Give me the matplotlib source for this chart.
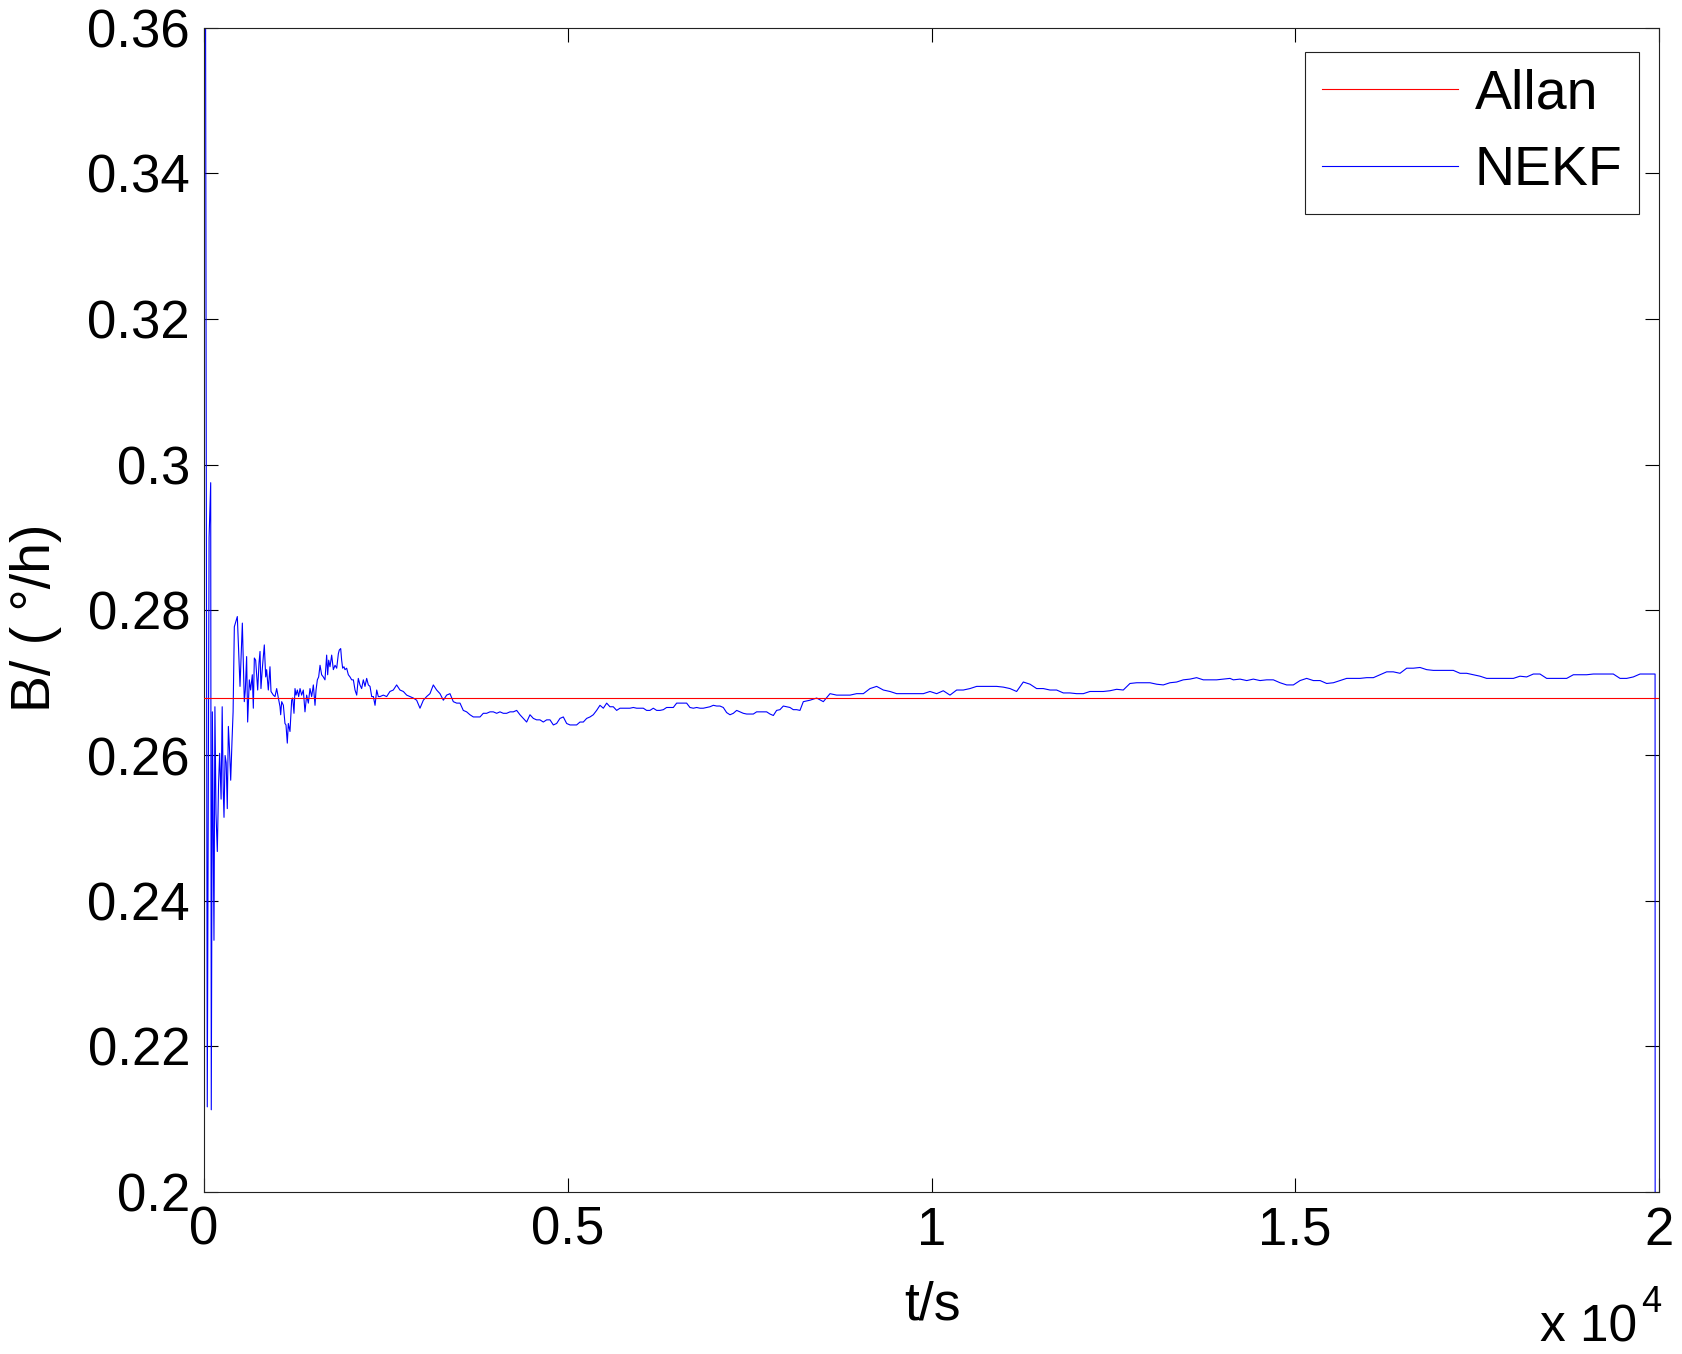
import matplotlib
matplotlib.use("Agg")
import matplotlib.pyplot as plt

# ---- data ----
allan_bias = 0.2679

# NEKF estimate, time in s
early_t = [0, 8, 45, 70, 92, 100, 115, 137, 150, 165, 183, 200, 215, 235, 250,
           265, 275, 290, 305, 320, 335, 350, 367, 385, 400]
early_b = [0.0, 0.45, 0.2117, 0.290, 0.2975, 0.2113, 0.2660, 0.2346, 0.2667, 0.2520,
           0.2468, 0.2560, 0.2603, 0.2540, 0.2667, 0.2550, 0.2515, 0.2600, 0.2590,
           0.2527, 0.2640, 0.2610, 0.2566, 0.2620, 0.2660]

settle_t = [417, 458, 495, 527, 554, 568, 586, 600, 623, 641, 664, 678, 692, 710,
            738, 756, 770, 783, 802, 829, 848, 861, 884, 907, 921, 953, 976, 999,
            1022, 1045, 1054, 1068, 1091, 1113, 1127, 1145, 1159, 1182, 1205, 1219,
            1237, 1251, 1265, 1283, 1301, 1320, 1342, 1365, 1388, 1411, 1434, 1457,
            1480, 1503, 1526, 1540, 1558, 1576, 1595, 1617, 1640, 1663, 1686, 1700,
            1714, 1732, 1755, 1778, 1801, 1824, 1847, 1860, 1879, 1892, 1906, 1924,
            1938, 1961, 1984, 2007, 2030, 2053, 2076, 2099, 2121, 2144, 2167, 2190,
            2213, 2236, 2259, 2282, 2305, 2328, 2351, 2374, 2396]
settle_b = [0.2777, 0.2791, 0.2695, 0.2782, 0.2674, 0.2690, 0.2736, 0.2646, 0.2704,
            0.2690, 0.2711, 0.2665, 0.2734, 0.2731, 0.2690, 0.2727, 0.2743, 0.2692,
            0.2720, 0.2752, 0.2708, 0.2718, 0.2690, 0.2722, 0.2688, 0.2683, 0.2681,
            0.2692, 0.2679, 0.2667, 0.2656, 0.2674, 0.2669, 0.2644, 0.2642, 0.2617,
            0.2644, 0.2633, 0.2676, 0.2679, 0.2658, 0.2692, 0.2683, 0.2690, 0.2681,
            0.2692, 0.2683, 0.2690, 0.2660, 0.2683, 0.2672, 0.2692, 0.2681, 0.2697,
            0.2669, 0.2690, 0.2704, 0.2708, 0.2724, 0.2711, 0.2708, 0.2704, 0.2738,
            0.2711, 0.2731, 0.2722, 0.2738, 0.2718, 0.2724, 0.2720, 0.2740, 0.2745,
            0.2747, 0.2731, 0.2720, 0.2722, 0.2718, 0.2720, 0.2711, 0.2708, 0.2704,
            0.2704, 0.2690, 0.2683, 0.2706, 0.2697, 0.2692, 0.2704, 0.2695, 0.2706,
            0.2697, 0.2695, 0.2681, 0.2681, 0.2669, 0.2690, 0.2681]

mid_t = [2419, 2465, 2511, 2556, 2602, 2648, 2694, 2740, 2786, 2831, 2877, 2923,
         2969, 3015, 3060, 3106, 3152, 3198, 3244, 3290, 3335, 3381, 3427, 3473,
         3519, 3564, 3610, 3656, 3702, 3748, 3794, 3839, 3885, 3931, 3977, 4023,
         4068, 4114, 4160, 4206, 4252, 4298, 4343, 4389, 4435, 4481, 4527, 4572,
         4618, 4664, 4710, 4756, 4802, 4847, 4893, 4939, 4985, 5031, 5076, 5122,
         5168, 5214, 5260, 5306, 5351, 5397, 5443, 5489, 5535, 5580, 5626, 5672,
         5718, 5764, 5810, 5855, 5901, 5947, 5993, 6039, 6084, 6130, 6176, 6222,
         6268, 6314, 6359, 6405, 6451, 6497, 6543, 6588, 6634, 6680, 6726, 6772,
         6818, 6863, 6909, 6955, 7001, 7047, 7092, 7138, 7184, 7230, 7276, 7322,
         7367, 7413, 7459, 7505, 7551, 7596, 7642, 7688, 7734, 7780, 7826, 7871,
         7917, 7963, 8009, 8055, 8100, 8146, 8192]
mid_b = [0.2681, 0.2683, 0.2681, 0.2688, 0.2690, 0.2697, 0.2690, 0.2688, 0.2683,
         0.2681, 0.2679, 0.2676, 0.2665, 0.2676, 0.2681, 0.2685, 0.2697, 0.2690,
         0.2685, 0.2676, 0.2683, 0.2685, 0.2674, 0.2672, 0.2672, 0.2662, 0.2660,
         0.2656, 0.2653, 0.2653, 0.2653, 0.2658, 0.2658, 0.2660, 0.2660, 0.2658,
         0.2660, 0.2658, 0.2658, 0.2660, 0.2660, 0.2662, 0.2656, 0.2651, 0.2646,
         0.2656, 0.2651, 0.2649, 0.2649, 0.2646, 0.2649, 0.2649, 0.2642, 0.2644,
         0.2651, 0.2653, 0.2644, 0.2642, 0.2642, 0.2642, 0.2646, 0.2646, 0.2651,
         0.2653, 0.2656, 0.2662, 0.2669, 0.2665, 0.2672, 0.2667, 0.2667, 0.2662,
         0.2665, 0.2665, 0.2665, 0.2665, 0.2666, 0.2665, 0.2665, 0.2665, 0.2662,
         0.2662, 0.2665, 0.2662, 0.2662, 0.2663, 0.2666, 0.2666, 0.2666, 0.2672,
         0.2672, 0.2672, 0.2672, 0.2666, 0.2665, 0.2666, 0.2665, 0.2665, 0.2666,
         0.2667, 0.2669, 0.2668, 0.2668, 0.2666, 0.2659, 0.2656, 0.2658, 0.2662,
         0.2660, 0.2658, 0.2657, 0.2657, 0.2657, 0.2660, 0.2660, 0.2660, 0.2660,
         0.2657, 0.2655, 0.2662, 0.2663, 0.2668, 0.2667, 0.2666, 0.2663, 0.2663,
         0.2662]

late_t = [8238, 8330, 8422, 8513, 8605, 8696, 8788, 8880, 8971, 9063, 9155, 9246,
          9338, 9429, 9521, 9613, 9704, 9796, 9888, 9979, 10071, 10162, 10254,
          10346, 10437, 10529, 10621, 10712, 10804, 10895, 10987, 11079, 11170,
          11262, 11354, 11445, 11537, 11629, 11720, 11812, 11903, 11995, 12087,
          12178, 12270, 12362, 12453, 12545, 12636, 12728, 12820, 12911, 13003,
          13095, 13186, 13278, 13370, 13461, 13553, 13644, 13736, 13828, 13919,
          14011, 14103]
late_b = [0.2674, 0.2676, 0.2679, 0.2674, 0.2685, 0.2683, 0.2683, 0.2683, 0.2685,
          0.2685, 0.2692, 0.2695, 0.2690, 0.2688, 0.2685, 0.2685, 0.2685, 0.2685,
          0.2685, 0.2688, 0.2685, 0.2689, 0.2683, 0.2690, 0.2690, 0.2692, 0.2695,
          0.2695, 0.2695, 0.2695, 0.2694, 0.2692, 0.2688, 0.2701, 0.2698, 0.2692,
          0.2692, 0.2690, 0.2690, 0.2686, 0.2686, 0.2685, 0.2685, 0.2688, 0.2688,
          0.2688, 0.2689, 0.2691, 0.2690, 0.2699, 0.2700, 0.2700, 0.2700, 0.2698,
          0.2697, 0.2700, 0.2701, 0.2704, 0.2705, 0.2707, 0.2704, 0.2704, 0.2704,
          0.2705, 0.2706]

tail_t = [14149, 14241, 14333, 14424, 14516, 14607, 14699, 14791, 14882, 14974,
          15066, 15157, 15249, 15341, 15432, 15524, 15615, 15707, 15799, 15890,
          15982, 16074, 16165, 16257, 16348, 16440, 16532, 16623, 16715, 16807,
          16898, 16990, 17082, 17173, 17265, 17356, 17448, 17540, 17631, 17723,
          17815, 17906, 17998, 18089, 18181, 18273, 18364, 18456, 18548, 18639,
          18731, 18823, 18914, 19006, 19097, 19189, 19281, 19372, 19464, 19556,
          19647, 19739, 19830, 19922, 19946, 19950]
tail_b = [0.2704, 0.2705, 0.2703, 0.2705, 0.2703, 0.2704, 0.2704, 0.2700, 0.2697,
          0.2697, 0.2703, 0.2706, 0.2703, 0.2703, 0.2699, 0.2700, 0.2703, 0.2706,
          0.2706, 0.2706, 0.2707, 0.2707, 0.2711, 0.2715, 0.2715, 0.2713, 0.2720,
          0.2720, 0.2721, 0.2718, 0.2717, 0.2717, 0.2717, 0.2717, 0.2713, 0.2713,
          0.2711, 0.2709, 0.2706, 0.2706, 0.2706, 0.2706, 0.2706, 0.2709, 0.2708,
          0.2712, 0.2712, 0.2706, 0.2706, 0.2706, 0.2706, 0.2711, 0.2711, 0.2711,
          0.2712, 0.2712, 0.2712, 0.2712, 0.2706, 0.2706, 0.2708, 0.2712, 0.2712,
          0.2712, 0.2712, 0.0]

nekf_t = early_t + settle_t + mid_t + late_t + tail_t
nekf_b = early_b + settle_b + mid_b + late_b + tail_b

x_ticks = [0, 5000, 10000, 15000, 20000]
x_ticklabels = ['0', '0.5', '1', '1.5', '2']
y_ticks = [0.2, 0.22, 0.24, 0.26, 0.28, 0.3, 0.32, 0.34, 0.36]
y_ticklabels = ['0.2', '0.22', '0.24', '0.26', '0.28', '0.3', '0.32', '0.34', '0.36']

plt.rcParams['font.family'] = ['Liberation Sans', 'DejaVu Sans']
FS = 38

W, H = 1683, 1354
fig = plt.figure(figsize=(W / 100, H / 100), dpi=100)
ax = fig.add_axes([204 / W, 1 - 1192 / H, 1455 / W, 1164 / H])

ax.plot(nekf_t, nekf_b, color='#0000ff', lw=0.8, label='NEKF', zorder=2)
ax.plot([0, 20000], [allan_bias, allan_bias], color='#ff0000', lw=0.8,
        label='Allan', zorder=3)

ax.set_xlim(0, 20000)
ax.set_ylim(0.2, 0.36)
ax.set_xticks(x_ticks)
ax.set_xticklabels(x_ticklabels)
ax.set_yticks(y_ticks)
ax.set_yticklabels(y_ticklabels)
ax.tick_params(direction='in', length=10, width=0.8, top=True, right=True,
               labelsize=FS, pad=10)
for s in ax.spines.values():
    s.set_linewidth(0.8)
    s.set_color('#222222')

handles, labels = ax.get_legend_handles_labels()
leg = ax.legend(handles[::-1], labels[::-1], loc='upper right',
                bbox_to_anchor=(1639 / W, 1 - 52 / H), bbox_transform=fig.transFigure,
                borderaxespad=0, fontsize=40, fancybox=False, framealpha=1,
                handlelength=2.45, handletextpad=0.3, labelspacing=0.44,
                borderpad=0.3)
leg.get_frame().set_edgecolor('#222222')
leg.get_frame().set_linewidth(0.8)

fig.text(933 / W, 1 - 1305 / H, 't/s', fontsize=38.5, ha='center', va='center')
fig.text(36 / W, 1 - 618 / H, 'B/ ( °/h)', fontsize=40, ha='center', va='center',
         rotation=90)
fig.text(1540 / W, 1 - 1342 / H, 'x 10', fontsize=37, ha='left', va='baseline')
fig.text(1641 / W, 1 - 1312 / H, '4', fontsize=26, ha='left', va='baseline')

fig.savefig('out.png', dpi=100, facecolor='white')
